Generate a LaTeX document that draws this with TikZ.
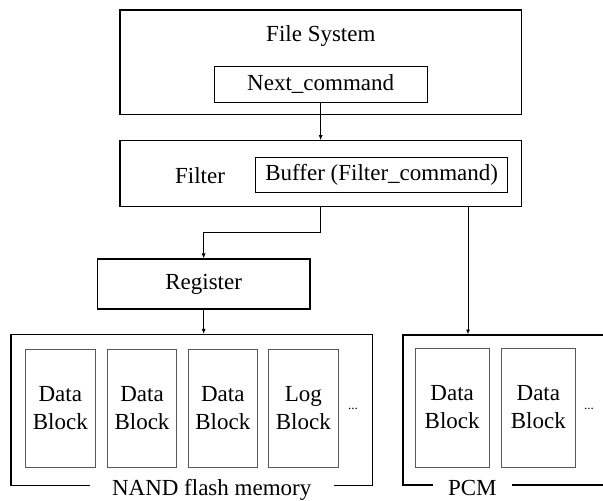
\documentclass[tikz,border=0pt]{standalone}
\usepackage{fontspec}
\setmainfont{Liberation Serif}
\usetikzlibrary{arrows.meta,calc}
\begin{document}
\begin{tikzpicture}[x=1pt,y=-1pt,
  every node/.style={font=\fontsize{23}{28}\selectfont, inner sep=0pt},
  frame/.style={draw, line width=1.1pt, rectangle},
  blk/.style={draw=black!65, line width=0.7pt, minimum width=69.5pt,
              minimum height=118.7pt, align=center},
  link/.style={line width=0.9pt, -{Latex[length=5pt,width=4pt]}},
  caption/.style={fill=white, anchor=base},
  dots/.style={font=\fontsize{13}{14}\selectfont}
]
\useasboundingbox (0,0) rectangle (603,501);

% upper layers
\node[frame, minimum width=401.7pt, minimum height=104.3pt] (fs) at (320.85,62.15) {};
\node (fstext) at (320.85,36) {File System};
\node[frame, line width=0.9pt, minimum width=213.3pt, minimum height=35.3pt] (next) at (320.65,84.35) {Next\_command};

\node[frame, minimum width=401.7pt, minimum height=66pt] (filter) at (320.85,173.7) {};
\node (filtertext) at (200,176) {Filter};
\node[frame, line width=0.9pt, minimum width=252pt, minimum height=34.6pt] (buffer) at (381.7,175) {Buffer (Filter\_command)};

\node[frame, minimum width=212.7pt, minimum height=50pt] (reg) at (203.65,284) {Register};

% storage devices
\node[frame, minimum width=361.3pt, minimum height=151pt] (nand) at (191.65,410) {};
\node[frame, minimum width=230pt, minimum height=150pt] (pcm) at (518,410) {};
\node[caption, inner xsep=22.5pt] (nandcap) at (211.7,495) {NAND flash memory};
\node[caption, inner xsep=15pt] (pcmcap) at (472.35,495) {PCM};

% blocks inside NAND flash
\node[blk] (nb1) at (60.35,408.3) {Data\\Block};
\node[blk] (nb2) at (142,408.3) {Data\\Block};
\node[blk] (nb3) at (222.8,408.3) {Data\\Block};
\node[blk] (nb4) at (303.35,408.3) {Log\\Block};
\node[dots] (nbdots) at (353,409) {...};

% blocks inside PCM
\node[blk, minimum width=74.3pt] (pb1) at (452.15,407.5) {Data\\Block};
\node[blk, minimum width=73.3pt] (pb2) at (538.35,407.5) {Data\\Block};
\node[dots] (pbdots) at (589,409) {...};

% connectors
\coordinate (pcmtap) at (468,334.5);
\draw[link] (next.south) -- (next.south |- filter.north);
\draw[link] (filter.south) -- ++(0,25.6) -| (reg.north);
\draw[link] (reg.south) -- (reg.south |- nand.north);
\draw[link] (filter.south -| pcmtap) -- (pcmtap);
\end{tikzpicture}
\end{document}
